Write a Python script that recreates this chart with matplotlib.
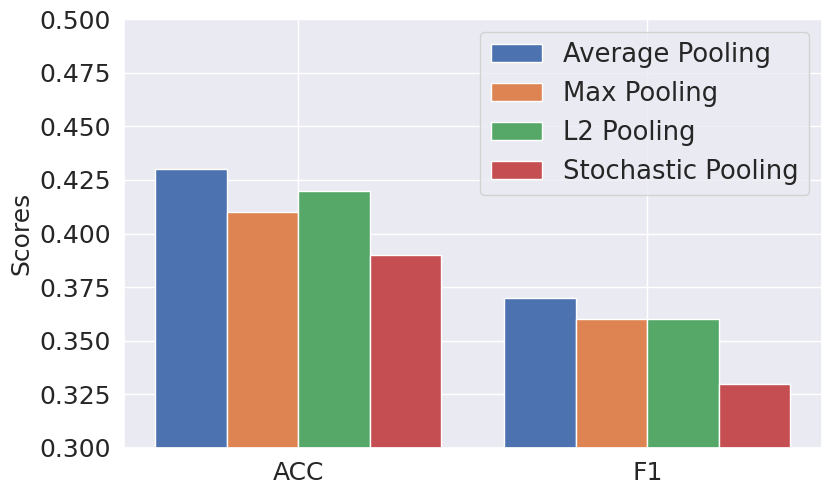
import matplotlib
matplotlib.use('Agg')
import matplotlib.pyplot as plt
import numpy as np
import seaborn as sns

# %%
# Scores per pooling method

metrics = ['ACC', 'F1']
methods = ['Average Pooling', 'Max Pooling', 'L2 Pooling', 'Stochastic Pooling']
average_pooling = [0.43, 0.37]
max_pooling = [0.41, 0.36]
l2_pooling = [0.42, 0.36]
stochastic_pooling = [0.39, 0.33]

# %%

sns.set_theme(style='darkgrid')
plt.rcParams['font.family'] = ['DejaVu Sans']

fig = plt.figure(figsize=(8.31, 4.93), dpi=100)
axis = fig.add_axes([0.149, 0.0913, 0.840, 0.870])

colors = sns.color_palette('deep')
x = np.arange(len(metrics))
width = 0.205

for i, (label, scores) in enumerate(zip(methods, [average_pooling, max_pooling,
                                                  l2_pooling, stochastic_pooling])):
    axis.bar(x + (i - 1.5) * width, scores, width,
             color=colors[i], edgecolor='white', linewidth=1,
             label=label)

axis.set_xticks(x)
axis.set_xticklabels(metrics, fontsize=18)
axis.set_xlim(-0.5, 1.5)
axis.set_ylim(0.3, 0.5)
axis.set_yticks(np.arange(0.3, 0.501, 0.025))
axis.set_yticklabels([f'{v:.3f}' for v in np.arange(0.3, 0.501, 0.025)], fontsize=18)
axis.set_ylabel('Scores', fontsize=18)

axis.legend(loc='upper right', fontsize=18.6)

fig.savefig('out.png', dpi=100)
